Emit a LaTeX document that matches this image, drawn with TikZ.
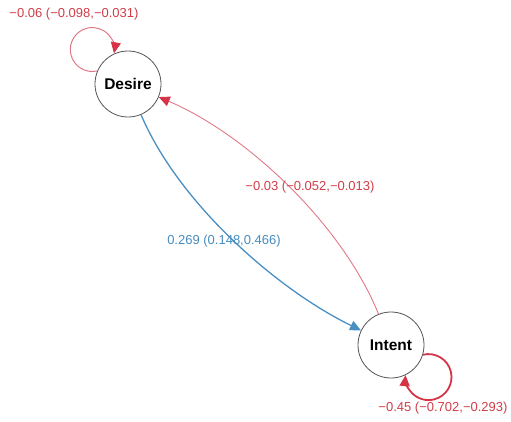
\documentclass[tikz,border=0pt]{standalone}
\usepackage{fontspec}
\setmainfont{Liberation Sans}
\usetikzlibrary{arrows.meta}
\definecolor{redtxt}{RGB}{208,62,72}
\definecolor{redarrow}{RGB}{214,52,70}
\definecolor{redline}{RGB}{226,120,135}
\definecolor{blueline}{RGB}{74,143,194}
\definecolor{bluetxt}{RGB}{70,140,190}
\definecolor{nodeline}{RGB}{85,85,85}
\tikzset{
  varnode/.style={circle,draw=nodeline,line width=0.8pt,fill=white,minimum size=66pt,inner sep=0pt,font=\fontsize{15.5}{18}\selectfont\bfseries},
  lbl/.style={font=\fontsize{13}{15}\selectfont,inner sep=0pt},
  tipred/.style={-{Triangle[length=11pt,width=10pt,color=redarrow]}},
  tipblue/.style={-{Triangle[length=11pt,width=10pt,color=blueline]}},
  posedge/.style={draw=blueline,line width=1.3pt,tipblue},
  negedge/.style={draw=redline,line width=0.9pt,tipred},
  negloopthin/.style={draw=redline,line width=1pt,tipred},
  negloopthick/.style={draw=redarrow,line width=1.8pt,tipred}
}
\begin{document}
\begin{tikzpicture}[x=1pt,y=1pt]
\useasboundingbox (0,0) rectangle (511,-421);
\node[varnode] (D) at (128,-84) {Desire};
\node[varnode] (I) at (391,-345) {Intent};
\draw[posedge] (D) to[out=-67,in=154,distance=95pt] (I);
\draw[negedge] (I) to[out=112,in=-23,distance=96pt] (D);
\draw[negloopthin] (D.157) arc[start angle=-77,end angle=-370,radius=22pt];
\draw[negloopthick] (I.-17) arc[start angle=104,end angle=-185,radius=23pt];
\node[lbl,text=redtxt] (lD) at (74,-14) {−0.06 (−0.098,−0.031)};
\node[lbl,text=redtxt] (lI) at (443,-408) {−0.45 (−0.702,−0.293)};
\node[lbl,text=redtxt] (lDI) at (310,-187) {−0.03 (−0.052,−0.013)};
\node[lbl,text=bluetxt] (lID) at (224,-241) {0.269 (0.148,0.466)};
\end{tikzpicture}
\end{document}
